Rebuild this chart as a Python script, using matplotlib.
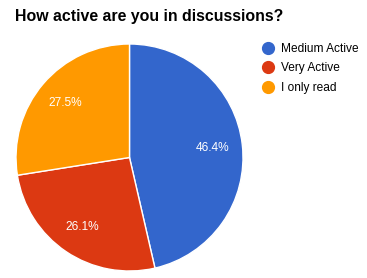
import matplotlib
matplotlib.use("Agg")
import matplotlib.pyplot as plt
from matplotlib.lines import Line2D

# data
labels = ["Medium Active", "Very Active", "I only read"]
shares = [46.4, 26.1, 27.5]
colors = ["#3366CC", "#DC3912", "#FF9900"]
title = "How active are you in discussions?"

plt.rcParams["font.family"] = ["Liberation Sans", "DejaVu Sans"]

W, H = 367, 278
fig = plt.figure(figsize=(W / 100, H / 100), dpi=100)


def px_axes(left, top, width, height):
    return fig.add_axes([left / W, 1 - (top + height) / H, width / W, height / H])


# pie occupies a square box in pixels
ax = px_axes(16, 44, 227, 227)
wedges, texts, autotexts = ax.pie(
    shares,
    colors=colors,
    startangle=90,
    counterclock=False,
    autopct="%.1f%%",
    pctdistance=0.74,
    wedgeprops=dict(edgecolor="white", linewidth=1),
    textprops=dict(color="white", fontsize=8.6),
)
ax.set_xlim(-1, 1)
ax.set_ylim(-1, 1)
ax.set_aspect("equal")
ax.axis("off")

fig.text(15 / W, 1 - 17 / H, title, fontsize=11.4, fontweight="bold",
         va="center", ha="left")

handles = [Line2D([], [], marker="o", linestyle="none", markersize=8.5,
                  markerfacecolor=c, markeredgecolor=c) for c in colors]
fig.legend(handles, labels, loc="upper left",
           bbox_to_anchor=(262 / W, 1 - 43 / H), frameon=False,
           fontsize=8.6, handlelength=1.0, handletextpad=0.55,
           labelspacing=0.62, borderpad=0, borderaxespad=0)

fig.savefig("out.png", dpi=100)
